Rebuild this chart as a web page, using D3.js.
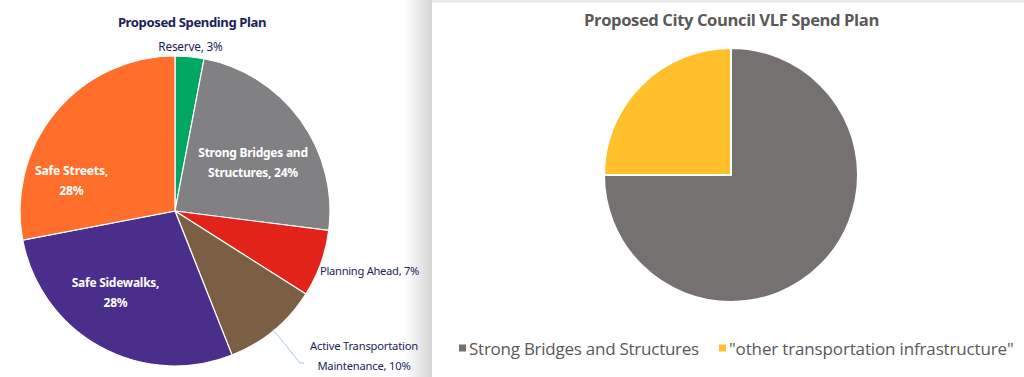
<!DOCTYPE html>
<html><head><meta charset="utf-8">
<script src="https://cdn.jsdelivr.net/npm/d3@7"></script>
<style>
html,body{margin:0;padding:0;background:#fff;}
svg{display:block;}
</style></head>
<body>
<svg id="c" width="1024" height="377"></svg>
<script>
// Left chart data
const leftTitle = "Proposed Spending Plan";
const leftCategories = ["Reserve", "Strong Bridges and Structures", "Planning Ahead", "Active Transportation Maintenance", "Safe Sidewalks", "Safe Streets"];
const leftValues = [3, 24, 7, 10, 28, 28];
const leftColors = ["#00a862", "#818184", "#e2231a", "#7b5f45", "#4a2e8c", "#ff6e2b"];

// Right chart data
const rightTitle = "Proposed City Council VLF Spend Plan";
const rightCategories = ["Strong Bridges and Structures", "\"other transportation infrastructure\""];
const rightValues = [75, 25];
const rightColors = ["#767171", "#ffc02b"];

const svg = d3.select("#c");
const defs = svg.append("defs");
const grad = defs.append("linearGradient").attr("id","shadow").attr("x1","0").attr("x2","1").attr("y1","0").attr("y2","0");
grad.append("stop").attr("offset","0").attr("stop-color","#ffffff");
grad.append("stop").attr("offset","1").attr("stop-color","#d6d6d6");

// backgrounds
svg.append("rect").attr("x",0).attr("y",0).attr("width",1024).attr("height",377).attr("fill","#fff");
svg.append("rect").attr("x",404).attr("y",0).attr("width",28).attr("height",377).attr("fill","url(#shadow)");
svg.append("rect").attr("x",432).attr("y",0).attr("width",592).attr("height",377).attr("fill","#fff");
svg.append("rect").attr("x",432).attr("y",0).attr("width",592).attr("height",2.5).attr("fill","#e9e9e9");

// ---------- Left pie ----------
const L = {cx:175, cy:211, r:155};
const pie = d3.pie().sort(null).value(d => d);
const lArcs = pie(leftValues);
const lArc = d3.arc().innerRadius(0).outerRadius(L.r);
const lg = svg.append("g").attr("transform", `translate(${L.cx},${L.cy})`);
lg.selectAll("path").data(lArcs).join("path")
  .attr("d", lArc)
  .attr("fill", (d,i) => leftColors[i])
  .attr("stroke", "#fff").attr("stroke-width", 1.2);

const navy = "#1b2357";
const lf = "'Noto Sans', 'Open Sans', sans-serif";
svg.append("text").attr("x",192).attr("y",27).attr("text-anchor","middle")
  .attr("font-family", lf).attr("font-weight","bold").attr("font-size",13.1)
  .attr("fill", navy).attr("letter-spacing", -0.4).text(leftTitle);

function lpos(i, f){
  const a = (lArcs[i].startAngle + lArcs[i].endAngle)/2;
  return [L.cx + Math.sin(a)*L.r*f, L.cy - Math.cos(a)*L.r*f];
}
const lblStyle = (t, size, w, col, ls) => t.attr("font-family", lf).attr("font-size", size)
  .attr("font-weight", w).attr("fill", col).attr("letter-spacing", ls);

function pct(i){ return leftValues[i] + "%"; }

// Reserve (outside, above)
lblStyle(svg.append("text").attr("x",190.5).attr("y",51).attr("text-anchor","middle"), 11.8, "normal", navy, -0.2)
  .text(leftCategories[0] + ", " + pct(0));

// Strong Bridges (inside)
{
  const t = lblStyle(svg.append("text").attr("text-anchor","middle"), 12, "bold", "#fff", -0.25);
  t.append("tspan").attr("x", 253).attr("y", 156.5).text("Strong Bridges and");
  t.append("tspan").attr("x", 253).attr("y", 176.5).text("Structures, " + pct(1));
}
// Planning Ahead (outside right)
lblStyle(svg.append("text").attr("x",320).attr("y",275).attr("text-anchor","start"), 11.2, "normal", navy, -0.3)
  .text(leftCategories[2] + ", " + pct(2));
// Active Transportation (outside with leader)
{
  const t = lblStyle(svg.append("text").attr("text-anchor","middle"), 11.2, "normal", navy, -0.2);
  t.append("tspan").attr("x", 364).attr("y", 350).text("Active Transportation");
  t.append("tspan").attr("x", 364).attr("y", 370).text("Maintenance, " + pct(3));
  const [sx, sy] = lpos(3, 0.99);
  svg.append("polyline").attr("points", `${sx},${sy} 300,363 304,363`)
    .attr("fill","none").attr("stroke","#a9c6ee").attr("stroke-width",1);
}
// Safe Sidewalks (inside)
{
  const t = lblStyle(svg.append("text").attr("text-anchor","middle"), 12, "bold", "#fff", -0.25);
  t.append("tspan").attr("x", 115.5).attr("y", 286.5).text("Safe Sidewalks,");
  t.append("tspan").attr("x", 115.5).attr("y", 306.5).text(pct(4));
}
// Safe Streets (inside)
{
  const t = lblStyle(svg.append("text").attr("text-anchor","middle"), 12.2, "bold", "#fff", -0.2);
  t.append("tspan").attr("x", 71.5).attr("y", 174.5).text("Safe Streets,");
  t.append("tspan").attr("x", 71.5).attr("y", 194.5).text(pct(5));
}

// ---------- Right pie ----------
const R = {cx:731, cy:175, r:127};
const rArcs = pie(rightValues);
const rArc = d3.arc().innerRadius(0).outerRadius(R.r);
const rg = svg.append("g").attr("transform", `translate(${R.cx},${R.cy})`);
rg.selectAll("path").data(rArcs).join("path")
  .attr("d", rArc)
  .attr("fill", (d,i) => rightColors[i])
  .attr("stroke", "#fff").attr("stroke-width", 2);

const rf = "'Open Sans', 'Liberation Sans', sans-serif";
svg.append("text").attr("x",731.5).attr("y",25.5).attr("text-anchor","middle")
  .attr("font-family", rf).attr("font-weight","bold").attr("font-size",16.6)
  .attr("fill","#595959").attr("letter-spacing",-0.4).text(rightTitle);

// legend
const legX = [459, 719];
const lgd = svg.append("g");
rightCategories.forEach((c,i) => {
  lgd.append("rect").attr("x", legX[i]).attr("y", 344.5).attr("width", 7).attr("height", 7).attr("fill", rightColors[i]);
  lgd.append("text").attr("x", legX[i] + 10).attr("y", 355)
    .attr("font-family", rf).attr("font-size", 17).attr("fill", "#595959").attr("letter-spacing", i === 0 ? -0.25 : -0.15)
    .text(c);
});
</script>
</body></html>
